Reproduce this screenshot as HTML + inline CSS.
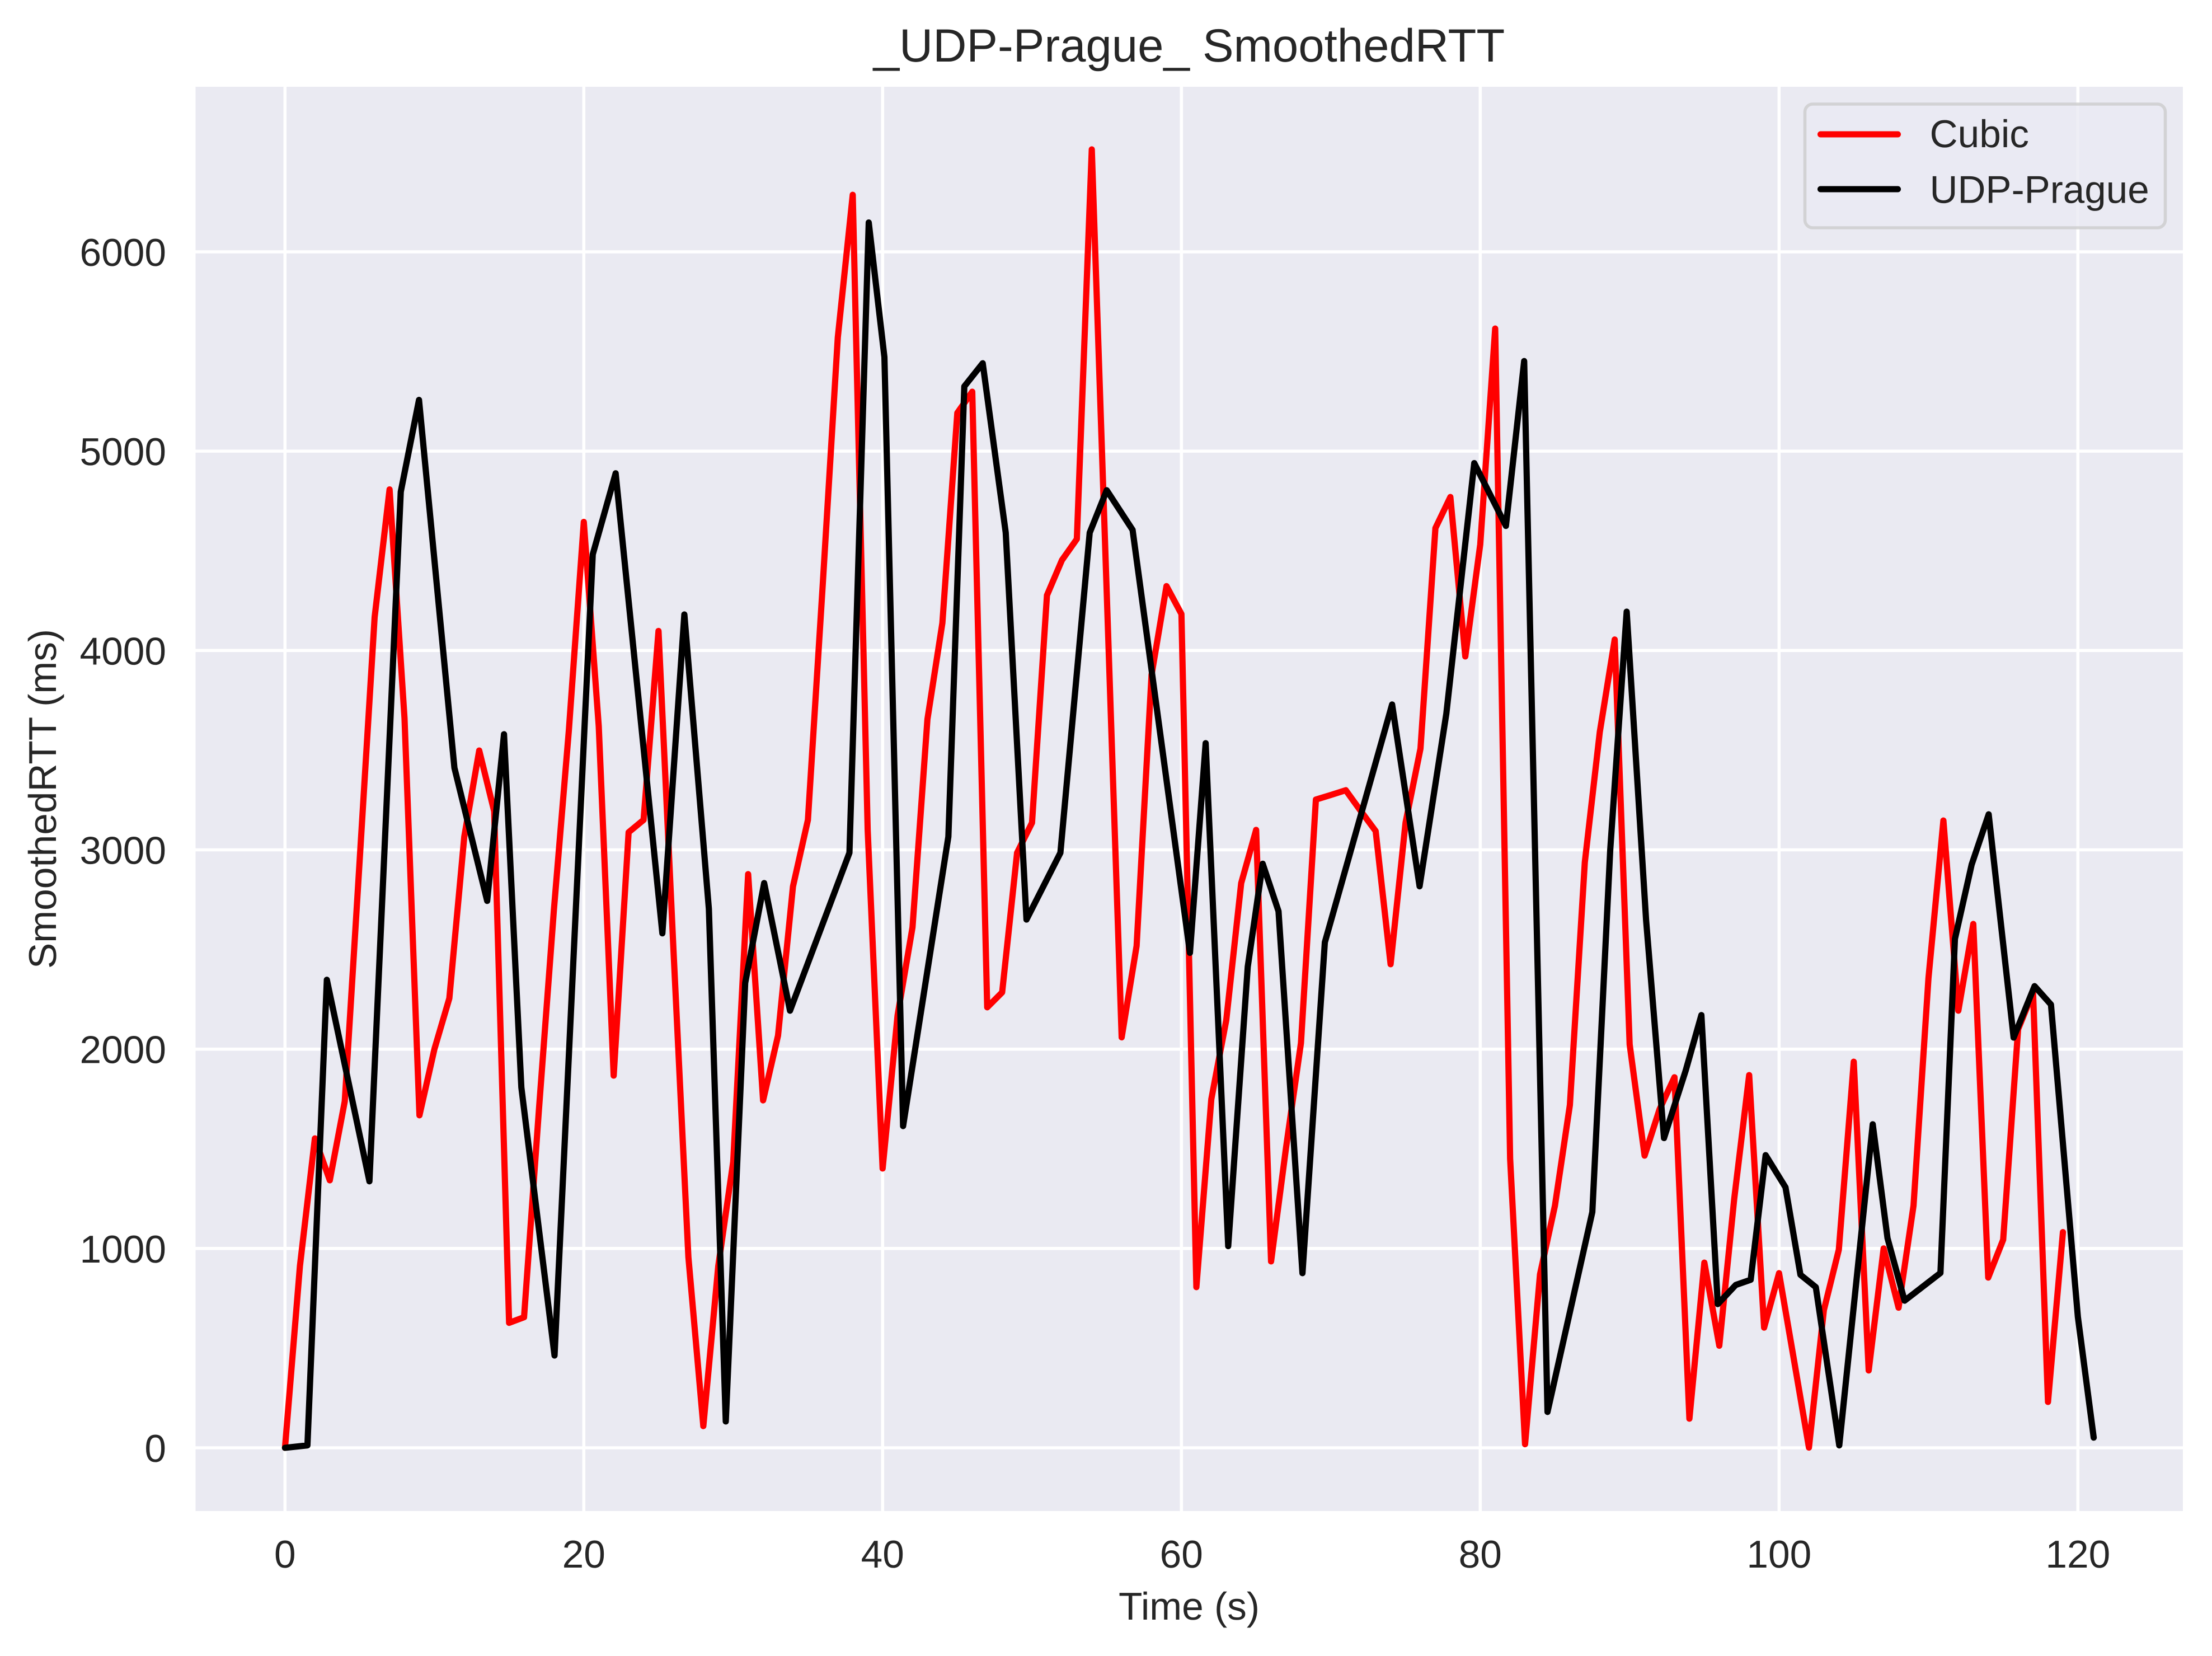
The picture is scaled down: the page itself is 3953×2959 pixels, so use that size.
<!DOCTYPE html>
<html lang="en">
<head>
<meta charset="utf-8">
<title>_UDP-Prague_ SmoothedRTT</title>
<style>
  html, body { margin: 0; padding: 0; background: #ffffff; }
  body { width: 3953px; height: 2959px; overflow: hidden; }
  svg { display: block; }
  text { font-family: "Liberation Sans", Arial, sans-serif; fill: #262626; text-rendering: geometricPrecision; }
</style>
</head>
<body>
<svg id="chart" xmlns="http://www.w3.org/2000/svg" width="3953" height="2959" viewBox="0 0 3953 2959">
  <rect x="0" y="0" width="3953" height="2959" fill="#ffffff"/>
  <rect x="349.5" y="155" width="3551.5" height="2545" fill="#eaeaf2"/>
  <g id="grid"></g>
  <g id="series"></g>
  <g id="x-ticks"></g>
  <g id="y-ticks"></g>
  <text x="2125" y="110" font-size="83.33" text-anchor="middle">_UDP-Prague_ SmoothedRTT</text>
  <text x="2125" y="2894" font-size="69.44" text-anchor="middle">Time (s)</text>
  <text transform="translate(100 1427.5) rotate(-90)" font-size="69.44" text-anchor="middle">SmoothedRTT (ms)</text>
  <g>
    <rect x="3225.5" y="186" width="644" height="221" rx="14" ry="14" fill="#eaeaf2" fill-opacity="0.8" stroke="#cccccc" stroke-opacity="0.8" stroke-width="5.56"/>
    <line x1="3253.5" y1="240" x2="3391.5" y2="240" stroke="#ff0000" stroke-width="11.11" stroke-linecap="round"/>
    <text x="3448.5" y="263" font-size="69.44">Cubic</text>
    <line x1="3253.5" y1="338" x2="3391.5" y2="338" stroke="#000000" stroke-width="11.11" stroke-linecap="round"/>
    <text x="3448.5" y="362.5" font-size="69.2">UDP-Prague</text>
  </g>
</svg>
<script>
const xTickValues = [0, 20, 40, 60, 80, 100, 120];
const yTickValues = [0, 1000, 2000, 3000, 4000, 5000, 6000];

const cubicTime = [0,1,2,3,4,5,6,7,8,9,10,11,12,13,14,15,16,17,18,19,20,21,22,23,24,25,26,27,28,29,30,31,32,33,34,35,36,37,38,39,40,41,42,43,44,45,46,47,48,49,50,51,52,53,54,55,56,57,58,59,60,61,62,63,64,65,66,67,68,69,70,71,72,73,74,75,76,77,78,79,80,81,82,83,84,85,86,87,88,89,90,91,92,93,94,95,96,97,98,99,100,101,102,103,104,105,106,107,108,109,110,111,112,113,114,115,116,117,118,119];
const cubicRtt = [0,912,1552,1342,1738,2950,4167,4808,3660,1668,2000,2255,3066,3498,3193,627,655,1700,2700,3600,4645,3620,1867,3088,3150,4098,2500,957,109,912,1435,2878,1743,2068,2816,3150,4340,5570,6286,3100,1401,2169,2611,3655,4138,5192,5298,2210,2285,2985,3136,4277,4453,4559,6514,4290,2059,2518,3877,4323,4183,806,1749,2145,2833,3100,935,1505,2031,3252,3275,3299,3195,3094,2426,3136,3508,4614,4770,3970,4532,5615,1451,18,870,1215,1720,2938,3590,4055,2024,1466,1698,1859,146,929,512,1250,1870,603,876,440,1,691,994,1937,388,1000,703,1215,2356,3147,2193,2628,854,1044,2100,2285,230,1082];

const pragueTime = [0,1.5,2.8,5.65,7.75,8.97,11.34,13.53,14.66,15.82,18.04,20.6,22.13,25.26,26.73,28.37,29.5,30.8,32.07,33.8,37.78,39.07,40.12,41.37,44.4,45.47,46.7,48.24,49.63,51.9,53.86,55,56.73,60.57,61.62,63.13,64.44,65.44,66.5,68.1,69.6,74.1,75.94,77.73,79.6,81.72,82.94,84.5,87.5,88.7,89.8,91.1,92.3,93.75,94.8,95.9,97.1,98.1,99.1,100.43,101.43,102.46,104.03,106.27,107.26,108.4,110.8,111.77,112.89,114.03,115.7,117.1,118.2,120,121.06];
const pragueRtt = [0,12,2348,1337,4796,5257,3411,2744,3580,1808,463,4482,4889,2581,4181,2704,132,2332,2833,2193,2985,6147,5472,1614,3066,5325,5441,4591,2650,2985,4591,4804,4605,2483,3535,1012,2413,2930,2692,876,2536,3729,2817,3683,4940,4625,5452,180,1183,3000,4195,2647,1554,1892,2171,721,817,843,1468,1307,868,806,12,1623,1052,738,877,2553,2926,3178,2058,2316,2224,657,51];

const SVG_NS = 'http://www.w3.org/2000/svg';
const PLOT_LEFT = 349.5, PLOT_RIGHT = 3901, PLOT_TOP = 155, PLOT_BOTTOM = 2700;

function xScale(t) { return 509.3 + t * 26.7; }
function yScale(v) { return 2587 - v * 0.35617; }

function makeLine(x1, y1, x2, y2) {
  const l = document.createElementNS(SVG_NS, 'line');
  l.setAttribute('x1', x1);
  l.setAttribute('y1', y1);
  l.setAttribute('x2', x2);
  l.setAttribute('y2', y2);
  l.setAttribute('stroke', '#ffffff');
  l.setAttribute('stroke-width', '5.56');
  return l;
}

function makeText(x, y, anchor, str) {
  const t = document.createElementNS(SVG_NS, 'text');
  t.setAttribute('x', x);
  t.setAttribute('y', y);
  t.setAttribute('font-size', '69.44');
  t.setAttribute('text-anchor', anchor);
  t.textContent = str;
  return t;
}

function makeSeries(times, values, color) {
  const p = document.createElementNS(SVG_NS, 'polyline');
  p.setAttribute('points', times.map((t, i) => xScale(t).toFixed(1) + ',' + yScale(values[i]).toFixed(1)).join(' '));
  p.setAttribute('fill', 'none');
  p.setAttribute('stroke', color);
  p.setAttribute('stroke-width', '11.11');
  p.setAttribute('stroke-linejoin', 'round');
  p.setAttribute('stroke-linecap', 'round');
  return p;
}

const gridGroup = document.getElementById('grid');
const xTickGroup = document.getElementById('x-ticks');
const yTickGroup = document.getElementById('y-ticks');
const seriesGroup = document.getElementById('series');

xTickValues.forEach(function (t) {
  const g = makeLine(xScale(t), PLOT_TOP, xScale(t), PLOT_BOTTOM);
  
  
  gridGroup.appendChild(g);
  const label = makeText(xScale(t), 2801, 'middle', String(t));
  
  
  xTickGroup.appendChild(label);
});

yTickValues.forEach(function (v) {
  const g = makeLine(PLOT_LEFT, yScale(v), PLOT_RIGHT, yScale(v));
  
  
  gridGroup.appendChild(g);
  const label = makeText(297, yScale(v) + 25, 'end', String(v));
  
  
  yTickGroup.appendChild(label);
});

const cubicLine = makeSeries(cubicTime, cubicRtt, '#ff0000');


seriesGroup.appendChild(cubicLine);

const pragueLine = makeSeries(pragueTime, pragueRtt, '#000000');


seriesGroup.appendChild(pragueLine);
</script>
</body>
</html>
